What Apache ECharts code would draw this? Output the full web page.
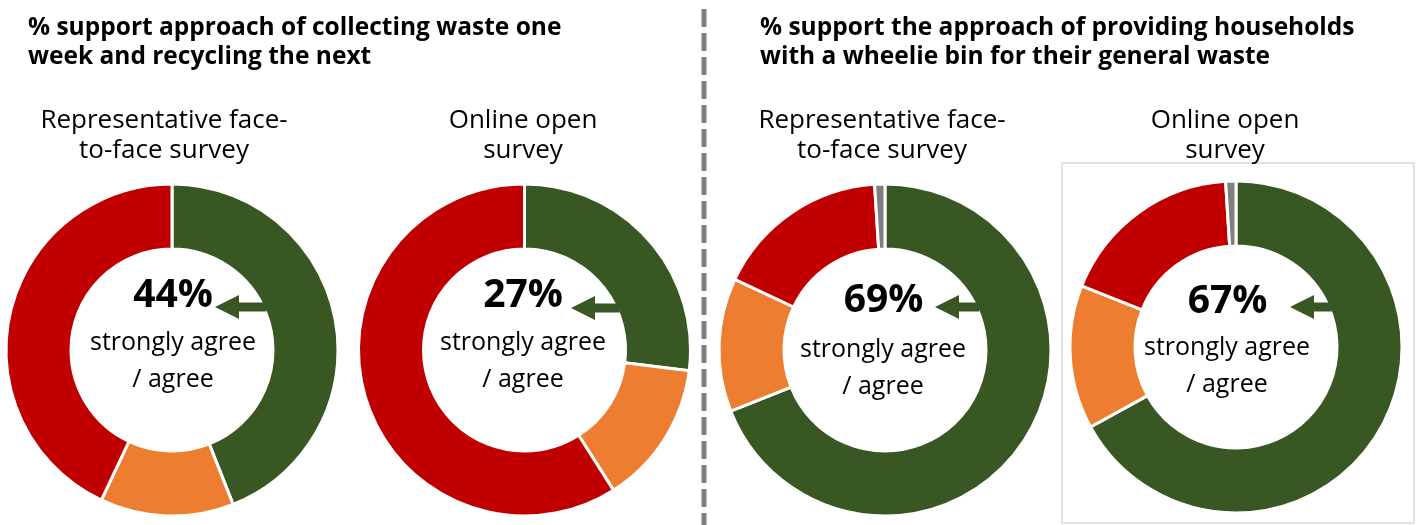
<!DOCTYPE html>
<html>
<head>
<meta charset="utf-8">
<script src="https://cdn.jsdelivr.net/npm/echarts@6/dist/echarts.min.js"></script>
<style>
  html, body { margin: 0; padding: 0; background: #ffffff; }
  #chart { width: 1418px; height: 525px; }
</style>
</head>
<body>
<div id="chart"></div>
<script>
// ---------- data ----------
const panelTitles = [
  '% support approach of collecting waste one\nweek and recycling the next',
  '% support the approach of providing households\nwith a wheelie bin for their general waste'
];
const surveyNames = [
  'Representative face-\nto-face survey',
  'Online open\nsurvey',
  'Representative face-\nto-face survey',
  'Online open\nsurvey'
];
const categories = ['Strongly agree / agree', 'Neither agree nor disagree', 'Disagree / strongly disagree', "Don't know"];
const agreeValues    = [44, 27, 69, 67];
const neitherValues  = [13, 14, 13, 14];
const disagreeValues = [43, 59, 17, 18];
const dontKnowValues = [0, 0, 1, 1];
const centerCaption = 'strongly agree\n/ agree';

// ---------- style / layout ----------
const colors = ['#385723', '#ED7D31', '#C00000', '#7F7F7F'];
const FONT = '"Open Sans", "Noto Sans", sans-serif';
const pieCenters = [[172, 350], [524.5, 350], [885, 350], [1236, 347]];
const innerR = 101, outerR = 166;
const titlePos = [[28, 28], [760, 28]];
const titleLineH = 29;
const subtitleX = [164, 523, 882, 1225];
const subtitleY = 136;
const pctPos = [[173, 296], [523, 296], [883.5, 301], [1227.5, 301.5]];
const capPos = [[173, 361.5], [523, 361.5], [883, 368.5], [1227, 366.5]];
const arrowTipX = [215, 571, 935, 1290];
const arrowY = [307, 308, 307, 307];

const series = [];
const graphics = [];

for (let i = 0; i < 4; i++) {
  const vals = [agreeValues[i], neitherValues[i], disagreeValues[i], dontKnowValues[i]];
  const data = [];
  vals.forEach((v, k) => {
    if (v > 0) data.push({ name: categories[k], value: v, itemStyle: { color: colors[k] } });
  });
  series.push({
    type: 'pie',
    center: pieCenters[i],
    radius: [innerR, outerR],
    startAngle: 90,
    clockwise: true,
    avoidLabelOverlap: false,
    label: { show: false },
    labelLine: { show: false },
    emphasis: { disabled: true },
    silent: true,
    itemStyle: { borderColor: '#ffffff', borderWidth: 3 },
    data: data
  });

  // subtitle
  graphics.push({
    type: 'text', x: subtitleX[i], y: subtitleY, z: 100,
    style: {
      text: surveyNames[i], fill: '#000', fontFamily: FONT, fontSize: 26,
      lineHeight: 30, textAlign: 'center', textVerticalAlign: 'middle'
    }
  });
  // percentage
  graphics.push({
    type: 'text', x: pctPos[i][0], y: pctPos[i][1], z: 100,
    style: {
      text: agreeValues[i] + '%', fill: '#000', fontFamily: FONT, fontSize: 39,
      fontWeight: 'bold', textAlign: 'center', textVerticalAlign: 'middle'
    }
  });
  // caption
  graphics.push({
    type: 'text', x: capPos[i][0], y: capPos[i][1], z: 100,
    style: {
      text: centerCaption, fill: '#000', fontFamily: FONT, fontSize: 25,
      lineHeight: 37, textAlign: 'center', textVerticalAlign: 'middle'
    }
  });
  // arrow
  const cx = pieCenters[i][0], cy = pieCenters[i][1];
  const y = arrowY[i], tx = arrowTipX[i];
  const ex = cx + Math.sqrt(innerR * innerR - (y - cy) * (y - cy)) + 3;
  const hb = tx + 24;
  graphics.push({
    type: 'polygon', z: 100,
    shape: { points: [[tx, y], [hb, y - 12], [hb, y - 4.5], [ex, y - 4.5], [ex, y + 4.5], [hb, y + 4.5], [hb, y + 12]] },
    style: { fill: colors[0] }
  });
}

// panel titles
for (let p = 0; p < 2; p++) {
  graphics.push({
    type: 'text', x: titlePos[p][0], y: titlePos[p][1] - titleLineH / 2, z: 100,
    style: {
      text: panelTitles[p], fill: '#000', fontFamily: FONT, fontSize: 24.5,
      fontWeight: 'bold', lineHeight: titleLineH, textAlign: 'left', textVerticalAlign: 'top'
    }
  });
}
// divider
graphics.push({
  type: 'line', z: 50,
  shape: { x1: 704, y1: 9, x2: 704, y2: 525 },
  style: { stroke: '#7F7F7F', lineWidth: 5, lineDash: [18, 6] }
});
// box around last donut
graphics.push({
  type: 'rect', z: 0,
  shape: { x: 1062, y: 163, width: 352, height: 360 },
  style: { fill: 'none', stroke: '#D9D9D9', lineWidth: 1.5 }
});

const chart = echarts.init(document.getElementById('chart'), null, { renderer: 'canvas' });
chart.setOption({
  animation: false,
  backgroundColor: '#ffffff',
  series: series,
  graphic: { elements: graphics }
});
</script>
</body>
</html>
